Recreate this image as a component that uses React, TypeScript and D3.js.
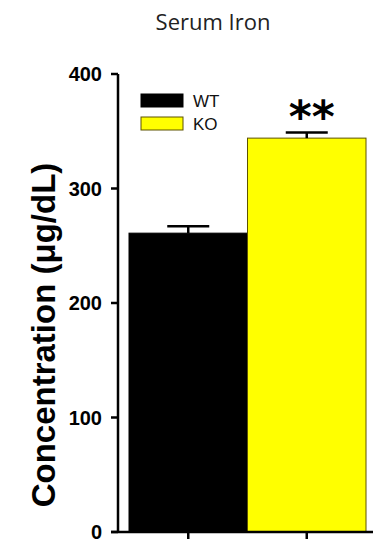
import React from 'react';
import { scaleLinear, scaleBand } from 'd3';

const groups = ['WT', 'KO'];
const means = [261, 344];
const errors = [6, 5];
const colors = ['#000000', '#ffff00'];
const yTicks = [0, 100, 200, 300, 400];

export default function App() {
    const width = 373;
    const height = 546;
    const margin = { top: 74, right: 7, bottom: 14, left: 118 };
    const plotBottom = height - margin.bottom;

    const yScale = scaleLinear().domain([0, 400]).range([plotBottom, margin.top]);
    const xScale = scaleBand()
        .domain(groups)
        .range([129, 366])
        .padding(0);

    const axisFont = 'Arial, "Liberation Sans", sans-serif';

    return (
        <svg width={width} height={height} style={{ position: 'absolute', left: 0, top: 0 }}>
            {/* Title */}
            <text x={213} y={30} textAnchor="middle" fontSize="22"
                fontFamily='"Open Sans", sans-serif' fill="#222">
                Serum Iron
            </text>

            {/* Bars */}
            {groups.map((g, i) => (
                <rect
                    key={g}
                    x={xScale(g)}
                    y={yScale(means[i])}
                    width={xScale.bandwidth()}
                    height={plotBottom - yScale(means[i])}
                    fill={colors[i]}
                    stroke={i === 0 ? '#000' : '#5c5200'}
                    strokeWidth={1}
                />
            ))}

            {/* Error bars */}
            {groups.map((g, i) => {
                const cx = (xScale(g) ?? 0) + xScale.bandwidth() / 2;
                return (
                    <g key={g} stroke="#000" strokeWidth={2.5}>
                        <line x1={cx} x2={cx} y1={yScale(means[i])} y2={yScale(means[i] + errors[i])} />
                        <line x1={cx - 21} x2={cx + 21} y1={yScale(means[i] + errors[i])} y2={yScale(means[i] + errors[i])} />
                    </g>
                );
            })}

            {/* Significance */}
            <text x={(xScale('KO') ?? 0) + xScale.bandwidth() / 2 + 5} y={132}
                textAnchor="middle" fontSize="44" fontWeight="bold" fontFamily='"DejaVu Sans", sans-serif'>
                **
            </text>

            {/* Y axis */}
            <line x1={margin.left} x2={margin.left} y1={yScale(400)} y2={plotBottom}
                stroke="#000" strokeWidth={2.5} />
            {yTicks.map(t => (
                <g key={t}>
                    <line x1={margin.left - 7} x2={margin.left} y1={yScale(t)} y2={yScale(t)}
                        stroke="#000" strokeWidth={2.5} />
                    <text x={margin.left - 16} y={yScale(t)} dy="0.36em" textAnchor="end"
                        fontSize="20" fontWeight="bold" fontFamily={axisFont}>
                        {t}
                    </text>
                </g>
            ))}

            {/* X axis */}
            <line x1={margin.left - 7} x2={width} y1={plotBottom} y2={plotBottom}
                stroke="#000" strokeWidth={2.5} />
            {groups.map(g => {
                const cx = (xScale(g) ?? 0) + xScale.bandwidth() / 2;
                return (
                    <line key={g} x1={cx} x2={cx} y1={plotBottom} y2={plotBottom + 7}
                        stroke="#000" strokeWidth={2.5} />
                );
            })}

            {/* Y axis title */}
            <text transform={`translate(55, 335) rotate(-90)`} textAnchor="middle"
                fontSize="33" fontWeight="bold" fontFamily={axisFont}>
                Concentration (μg/dL)
            </text>

            {/* Legend */}
            {groups.map((g, i) => (
                <g key={g} transform={`translate(141, ${94 + i * 23})`}>
                    <rect width={42} height={13} fill={colors[i]}
                        stroke={i === 0 ? '#000' : '#5c5200'} strokeWidth={1} />
                    <text x={52} y={7} dy="0.36em" fontSize="17" fontFamily={axisFont} fill="#111">
                        {g}
                    </text>
                </g>
            ))}
        </svg>
    );
}
